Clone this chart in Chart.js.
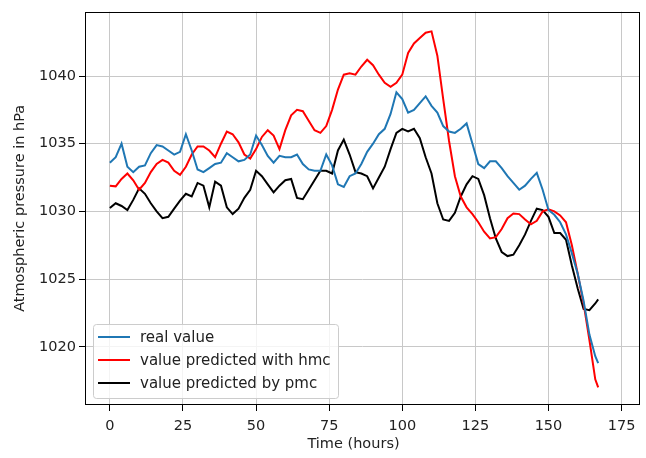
<!DOCTYPE html>
<html>
<head>
<meta charset="utf-8">
<script src="https://cdn.jsdelivr.net/npm/chart.js@4/dist/chart.umd.min.js"></script>
<style>
  html, body { margin: 0; padding: 0; background: #fff; }
  #wrap { width: 646px; height: 458px; }
</style>
</head>
<body>
<div id="wrap"><canvas id="chart_pressure" width="646" height="458"></canvas></div>
<script>
// hours of the week, read every 2 hours off the picture
var hours = [0,2,4,6,8,10,12,14,16,18,20,22,24,26,28,30,32,34,36,38,40,42,44,46,48,50,52,54,56,58,
    60,62,64,66,68,70,72,74,76,78,80,82,84,86,88,90,92,94,96,98,100,102,104,106,108,110,112,114,116,118,
    120,122,124,126,128,130,132,134,136,138,140,142,144,146,148,150,152,154,156,158,160,162,164,166,167];

var realValue = [1033.6,1034.0,1035.0,1033.3,1032.9,1033.3,1033.4,1034.3,1034.9,1034.8,1034.5,1034.2,1034.4,1035.7,1034.5,
    1033.1,1032.9,1033.2,1033.5,1033.6,1034.3,1034.0,1033.7,1033.8,1034.2,1035.6,1034.9,1034.1,1033.6,1034.1,
    1034.0,1034.0,1034.2,1033.5,1033.1,1033.0,1033.0,1034.2,1033.4,1032.0,1031.8,1032.6,1032.8,1033.5,1034.4,
    1035.0,1035.7,1036.1,1037.2,1038.8,1038.3,1037.3,1037.5,1038.0,1038.5,1037.8,1037.3,1036.3,1035.9,1035.8,
    1036.1,1036.5,1035.0,1033.5,1033.2,1033.7,1033.7,1033.2,1032.6,1032.1,1031.6,1031.9,1032.4,1032.85,1031.6,
    1030.1,1029.75,1029.2,1028.3,1026.9,1025.4,1023.4,1020.9,1019.3,1018.8];

var hmcValue = [1031.9,1031.85,1032.4,1032.8,1032.3,1031.6,1032.1,1032.9,1033.5,1033.8,1033.6,1033.0,1032.7,1033.3,1034.2,
    1034.8,1034.8,1034.5,1034.0,1035.0,1035.9,1035.7,1035.1,1034.2,1033.9,1034.6,1035.5,1036.0,1035.6,1034.6,
    1036.0,1037.1,1037.5,1037.4,1036.7,1036.0,1035.8,1036.3,1037.5,1039.0,1040.1,1040.2,1040.1,1040.7,1041.2,
    1040.8,1040.1,1039.5,1039.2,1039.5,1040.1,1041.7,1042.4,1042.8,1043.2,1043.3,1041.5,1038.3,1035.2,1032.6,
    1031.1,1030.3,1029.8,1029.2,1028.5,1028.0,1028.1,1028.7,1029.5,1029.85,1029.8,1029.4,1029.05,1029.3,1030.0,
    1030.15,1030.0,1029.7,1029.2,1027.5,1025.4,1023.2,1020.5,1017.6,1017.0];

var pmcValue = [1030.25,1030.6,1030.4,1030.1,1030.85,1031.7,1031.3,1030.6,1030.0,1029.5,1029.6,1030.2,1030.8,1031.3,1031.1,
    1032.1,1031.9,1030.3,1032.2,1031.9,1030.3,1029.8,1030.2,1031.0,1031.6,1033.0,1032.6,1032.0,1031.4,1031.9,
    1032.3,1032.4,1031.0,1030.9,1031.6,1032.3,1033.0,1033.0,1032.8,1034.5,1035.3,1034.2,1032.9,1032.8,1032.6,
    1031.7,1032.5,1033.3,1034.6,1035.8,1036.1,1035.9,1036.1,1035.4,1034.0,1032.8,1030.6,1029.4,1029.3,1029.9,
    1031.1,1032.0,1032.6,1032.4,1031.2,1029.5,1028.0,1027.0,1026.7,1026.8,1027.5,1028.3,1029.3,1030.2,1030.1,
    1029.6,1028.4,1028.4,1027.9,1026.0,1024.3,1022.8,1022.7,1023.2,1023.5];

var seriesNames = ["real value", "value predicted with hmc", "value predicted by pmc"];
var seriesColors = ["#1f77b4", "#ff0000", "#000000"];
var xTitle = "Time (hours)";

function toPoints(ys){
    var pts = [];
    for (var i = 0; i < hours.length; i++) pts.push({x: hours[i], y: ys[i]});
    return pts;
}

var FONT = "'DejaVu Sans', sans-serif";

// frame around the plot area, x label, legend in the lower left corner
var framePlugin = {
    id: "frame",
    afterDraw: function(chart){
        var ctx = chart.ctx, a = chart.chartArea;
        ctx.save();
        ctx.strokeStyle = "#000";
        ctx.lineWidth = 1;
        ctx.strokeRect(Math.round(a.left) + 0.5, Math.round(a.top) + 0.5,
            Math.round(a.right - a.left) - 1, Math.round(a.bottom - a.top) - 1);

        ctx.font = "14.5px " + FONT;
        ctx.fillStyle = "#222";
        ctx.textAlign = "center";
        ctx.textBaseline = "middle";
        ctx.fillText(xTitle, (a.left + a.right) / 2 - 9, a.bottom + 39);
        ctx.textAlign = "left";

        var bx = a.left + 8, by = a.bottom - 81, bw = 245, bh = 74;
        ctx.fillStyle = "rgba(255,255,255,0.8)";
        ctx.strokeStyle = "#cccccc";
        ctx.beginPath();
        ctx.roundRect(bx + 0.5, by + 0.5, bw, bh, 3);
        ctx.fill();
        ctx.stroke();
        ctx.font = "15px " + FONT;
        ctx.lineWidth = 2;
        for (var i = 0; i < seriesNames.length; i++){
            var yy = by + 13 + i * 23;
            ctx.strokeStyle = seriesColors[i];
            ctx.beginPath();
            ctx.moveTo(bx + 5, yy);
            ctx.lineTo(bx + 37, yy);
            ctx.stroke();
            ctx.fillStyle = "#222";
            ctx.fillText(seriesNames[i], bx + 47, yy + 1);
        }
        ctx.restore();
    }
};

var datasets = [realValue, hmcValue, pmcValue].map(function(ys, i){
    return {
        label: seriesNames[i],
        data: toPoints(ys),
        borderColor: seriesColors[i],
        backgroundColor: seriesColors[i],
        borderWidth: 2,
        pointRadius: 0,
        tension: 0,
        fill: false
    };
});

var tickFont = { family: FONT, size: 14.5 };

new Chart(document.getElementById("chart_pressure").getContext("2d"), {
    type: "line",
    data: { datasets: datasets },
    options: {
        responsive: false,
        animation: false,
        layout: { padding: { top: 6, right: 6, left: 0, bottom: 0 } },
        plugins: { legend: { display: false }, tooltip: { enabled: false } },
        scales: {
            x: {
                type: "linear",
                min: -8.5,
                max: 181.3,
                afterFit: function(s){ s.height = 53; },
                grid: { color: "#c8c8c8", lineWidth: 1, tickColor: "#000", tickLength: 6, drawTicks: true },
                border: { display: false },
                ticks: { stepSize: 25, includeBounds: false, color: "#222", padding: 7, font: tickFont,
                    callback: function(v){ return String(v); } },
                title: { display: false }
            },
            y: {
                min: 1015.7,
                max: 1044.75,
                afterFit: function(s){ s.width = 85; },
                grid: { color: "#c8c8c8", lineWidth: 1, tickColor: "#000", tickLength: 6, drawTicks: true },
                border: { display: false },
                ticks: { stepSize: 5, includeBounds: false, color: "#222", padding: 3, font: tickFont,
                    callback: function(v){ return String(v); } },
                title: { display: true, text: "Atmospheric pressure in hPa", color: "#222", font: tickFont, padding: { top: 12, bottom: 4 } }
            }
        }
    },
    plugins: [framePlugin]
});
</script>
</body>
</html>
